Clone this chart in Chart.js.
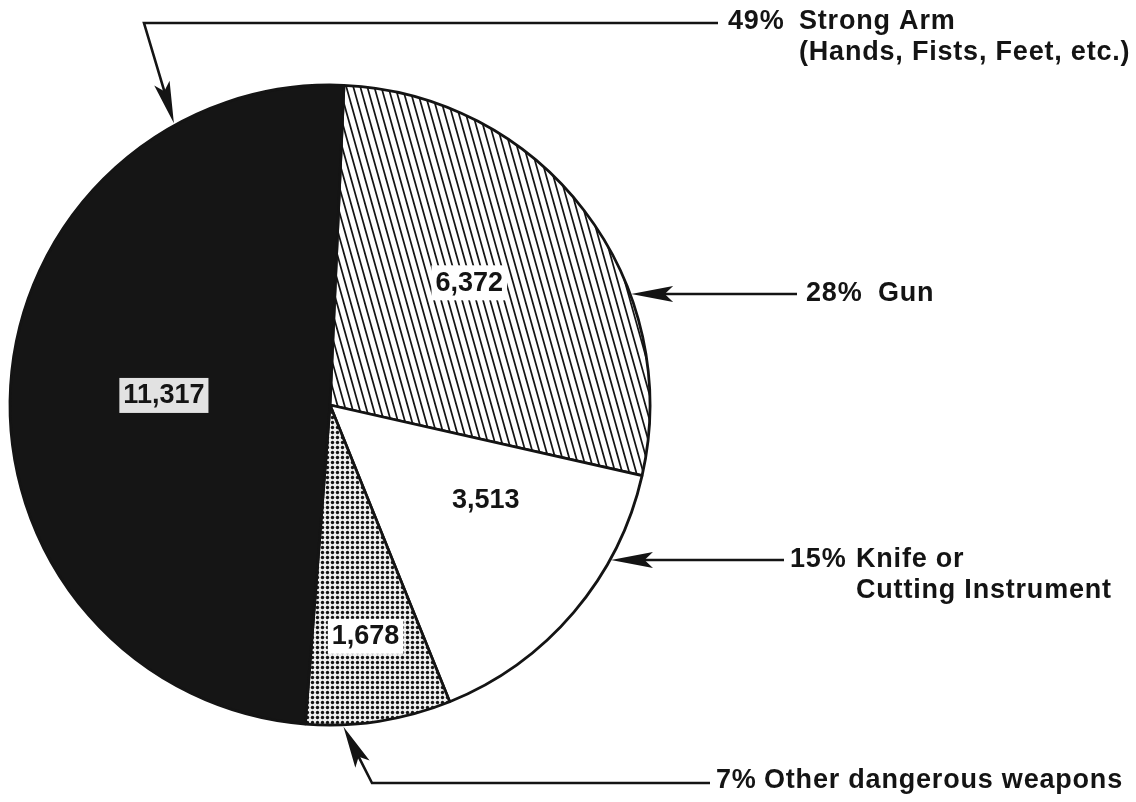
<!DOCTYPE html>
<html>
<head>
<meta charset="utf-8">
<title>Robbery by type of weapon</title>
<script src="https://cdn.jsdelivr.net/npm/chart.js@4.4.1/dist/chart.umd.min.js"></script>
<style>
  html, body { margin: 0; padding: 0; background: #fff; }
  #wrap { width: 1136px; height: 802px; position: relative; }
</style>
</head>
<body>
<div id="wrap"><canvas id="pie"></canvas></div>
<script>
// data (clockwise from the top)
const categories = ['Gun', 'Knife or Cutting Instrument', 'Other dangerous weapons', 'Strong Arm'];
const counts = [6372, 3513, 1678, 11317];
const percentLabels = ['28%', '15%', '7%', '49%'];
const nameLines = [
    ['Gun'],
    ['Knife or', 'Cutting Instrument'],
    ['Other dangerous weapons'],
    ['Strong Arm', '(Hands, Fists, Feet, etc.)']
];

const INK = '#141414';
const FONT = "bold 27px 'Liberation Sans', Arial, sans-serif";

function hatchPattern() {
    const c = document.createElement('canvas');
    c.width = 7; c.height = 25;
    const g = c.getContext('2d');
    g.fillStyle = '#fff';
    g.fillRect(0, 0, 7, 25);
    g.strokeStyle = INK;
    g.lineWidth = 1.7;
    [-7, 0, 7].forEach(dx => {
        g.beginPath();
        g.moveTo(dx - 7, -25);
        g.lineTo(dx + 14, 50);
        g.stroke();
    });
    return g.createPattern(c, 'repeat');
}

function dotPattern() {
    const c = document.createElement('canvas');
    c.width = 5; c.height = 5;
    const g = c.getContext('2d');
    g.fillStyle = '#f0f0f0';
    g.fillRect(0, 0, 5, 5);
    g.fillStyle = INK;
    g.beginPath();
    g.arc(2.5, 2.5, 1.7, 0, Math.PI * 2);
    g.fill();
    return g.createPattern(c, 'repeat');
}

function arrowHead(ctx, fx, fy, tx, ty, len, half) {
    const a = Math.atan2(ty - fy, tx - fx);
    const ux = Math.cos(a), uy = Math.sin(a);
    const bx = tx - ux * len, by = ty - uy * len;
    const nx = tx - ux * len * 0.8, ny = ty - uy * len * 0.8;
    ctx.beginPath();
    ctx.moveTo(tx, ty);
    ctx.lineTo(bx - uy * half, by + ux * half);
    ctx.lineTo(nx, ny);
    ctx.lineTo(bx + uy * half, by - ux * half);
    ctx.closePath();
    ctx.fill();
}

// where the numbers sit inside the slices and where the callouts go
const valueLabelStyle = [
    { frac: 0.58, turn: -4, box: '#ffffff' },
    { frac: 0.57, turn: -9, box: null },
    { frac: 0.73, turn: 0, box: '#ffffff' },
    { frac: 0.52, turn: 0, box: '#e2e2e2' }
];
const callouts = [
    { y: 294, lineEnd: 797, pctX: 806, nameX: 878 },
    { y: 560, lineEnd: 784, pctX: 790, nameX: 856 },
    { tipDeg: 177.6, corner: [372, 783], lineEnd: 710, pctX: 716, nameX: 764, y: 781 },
    { tipDeg: 331, corner: [144, 23], lineEnd: 718, pctX: 728, nameX: 799, y: 22 }
];

const calloutPlugin = {
    id: 'callouts',
    afterDatasetsDraw(chart) {
        const ctx = chart.ctx;
        const arcs = chart.getDatasetMeta(0).data;
        const cx = arcs[0].x, cy = arcs[0].y, r = arcs[0].outerRadius;

        ctx.save();
        ctx.font = FONT;
        ctx.textBaseline = 'middle';
        ctx.fillStyle = INK;
        ctx.strokeStyle = INK;

        // values inside the slices
        arcs.forEach((arc, i) => {
            const st = valueLabelStyle[i];
            const mid = (arc.startAngle + arc.endAngle) / 2 + st.turn * Math.PI / 180;
            const x = cx + Math.cos(mid) * r * st.frac;
            const y = cy + Math.sin(mid) * r * st.frac;
            const txt = counts[i].toLocaleString('en-US');
            const w = ctx.measureText(txt).width;
            if (st.box) {
                ctx.fillStyle = st.box;
                ctx.fillRect(x - w / 2 - 4, y - 17, w + 8, 35);
            }
            ctx.fillStyle = INK;
            ctx.textAlign = 'center';
            ctx.fillText(txt, x, y + 1);
        });

        // leader lines, arrows and category text
        ctx.lineWidth = 2.6;
        ctx.textAlign = 'left';
        ctx.letterSpacing = '0.8px';
        callouts.forEach((c, i) => {
            let tip, from;
            ctx.beginPath();
            if (c.tipDeg === undefined) {
                const dy = c.y - cy;
                tip = [cx + Math.sqrt(r * r - dy * dy) + 1, c.y];
                from = [c.lineEnd, c.y];
                ctx.moveTo(c.lineEnd, c.y);
                ctx.lineTo(tip[0] + 20, c.y);
            } else {
                const a = (c.tipDeg - 90) * Math.PI / 180;
                tip = [cx + Math.cos(a) * (r + 2), cy + Math.sin(a) * (r + 2)];
                from = c.corner;
                ctx.moveTo(c.lineEnd, c.corner[1]);
                ctx.lineTo(c.corner[0], c.corner[1]);
                const a2 = Math.atan2(tip[1] - c.corner[1], tip[0] - c.corner[0]);
                const d = Math.hypot(tip[0] - c.corner[0], tip[1] - c.corner[1]) - 20;
                ctx.lineTo(c.corner[0] + Math.cos(a2) * d, c.corner[1] + Math.sin(a2) * d);
            }
            ctx.stroke();
            arrowHead(ctx, from[0], from[1], tip[0], tip[1], 42, 8);

            ctx.fillText(percentLabels[i], c.pctX, c.y);
            nameLines[i].forEach((line, k) => {
                ctx.fillText(line, c.nameX, c.y + k * 31);
            });
        });
        ctx.restore();
    }
};

new Chart(document.getElementById('pie'), {
    type: 'pie',
    data: {
        labels: categories,
        datasets: [{
            data: counts,
            backgroundColor: [hatchPattern(), '#ffffff', dotPattern(), '#151515'],
            borderColor: INK,
            borderWidth: 2.8,
            radius: 320
        }]
    },
    options: {
        responsive: true,
        maintainAspectRatio: false,
        animation: false,
        rotation: 2.5,
        layout: { padding: { left: 0, right: 476, top: 8, bottom: 0 } },
        plugins: {
            legend: { display: false },
            tooltip: { enabled: false }
        }
    },
    plugins: [calloutPlugin]
});
</script>
</body>
</html>
